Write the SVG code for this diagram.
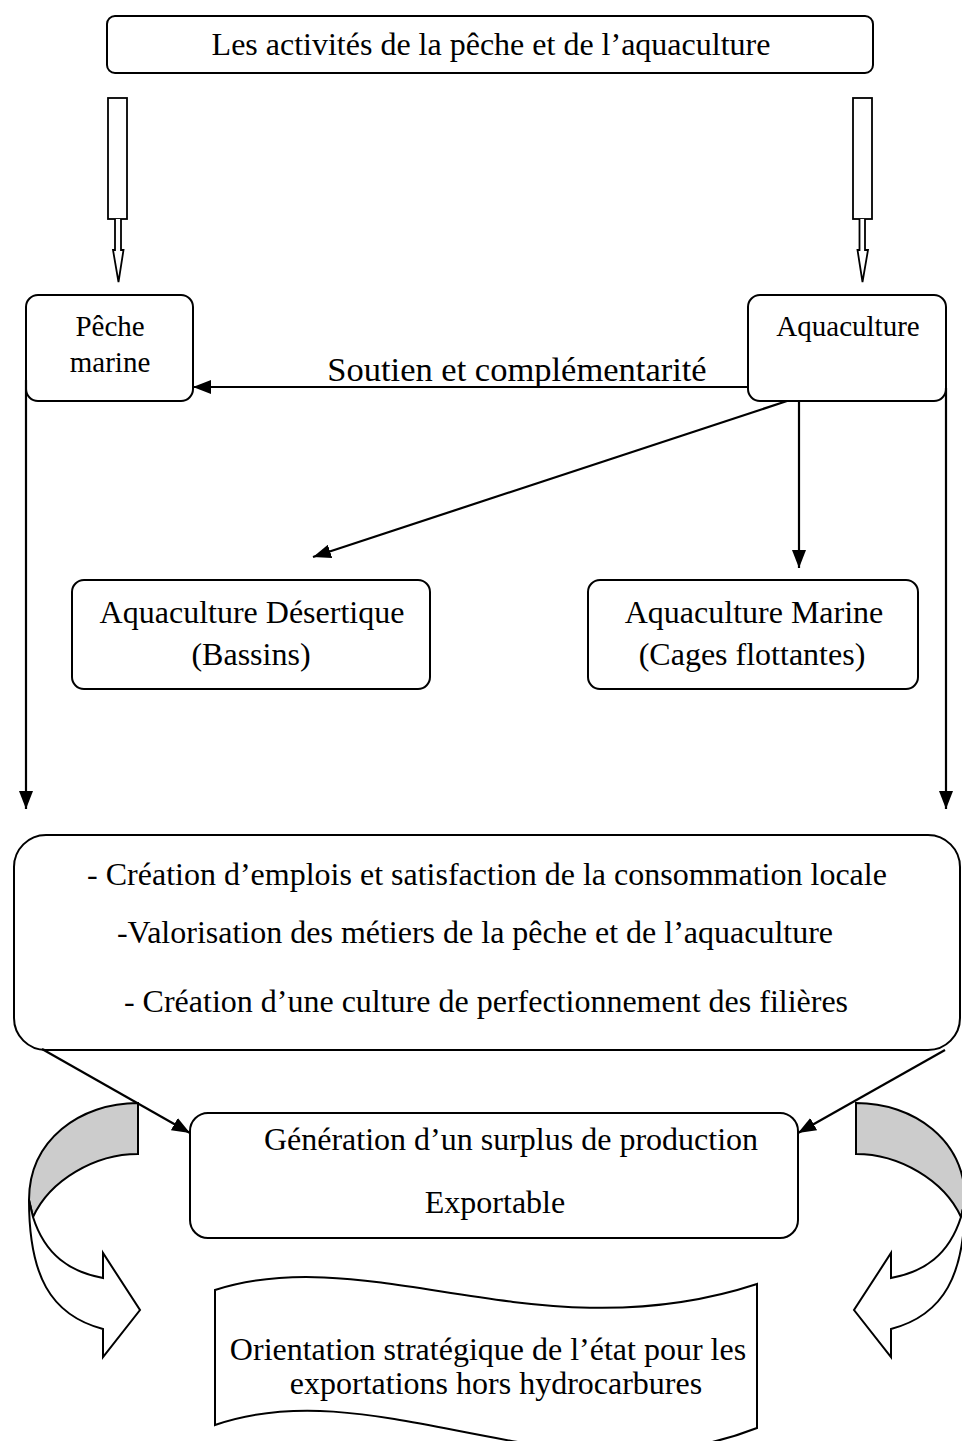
<svg xmlns="http://www.w3.org/2000/svg" width="962" height="1441" viewBox="0 0 962 1441">
  <style>
    .box { fill: #ffffff; stroke: #000000; stroke-width: 2; }
    .hollow { fill: #ffffff; stroke: #000000; stroke-width: 1.8; stroke-linejoin: miter; }
    .conn { fill: none; stroke: #000000; stroke-width: 2.2; }
    .band { fill: #cccccc; stroke: #000000; stroke-width: 2; stroke-linejoin: miter; }
    .front { fill: #ffffff; stroke: #000000; stroke-width: 2; stroke-linejoin: miter; }
    text { font-family: "Liberation Serif", "Times New Roman", serif; fill: #000000; text-anchor: middle; }
    .t32 { font-size: 32px; }
    .t29 { font-size: 29px; }
    .t34 { font-size: 34.5px; }
  </style>
  <defs>
    <marker id="ah" viewBox="0 0 18 14" refX="18" refY="7" markerWidth="18" markerHeight="14" markerUnits="userSpaceOnUse" orient="auto">
      <path d="M0,0 L18,7 L0,14 Z" fill="#000000"/>
    </marker>
  </defs>

  <!-- Title node -->
  <g id="activites">
    <rect class="box" x="107" y="16" width="766" height="57" rx="8"/>
    <text class="t32" x="491" y="55">Les activités de la pêche et de l’aquaculture</text>
  </g>

  <!-- Hollow block arrows from the title -->
  <g id="hollow-left">
    <rect class="hollow" x="108" y="98" width="19" height="121"/>
    <path class="hollow" d="M115,219 V250 H113 L118.5,282 L123.5,250 H121 V219"/>
  </g>
  <g id="hollow-right">
    <rect class="hollow" x="853" y="98" width="19" height="121"/>
    <path class="hollow" d="M859.5,219 V250 H857.5 L862.5,282 L868,250 H865 V219"/>
  </g>

  <!-- Second row -->
  <g id="peche-marine">
    <rect class="box" x="26" y="295" width="167" height="106" rx="12"/>
    <text class="t29" x="110" y="336">Pêche</text>
    <text class="t29" x="110" y="372">marine</text>
  </g>
  <g id="aquaculture">
    <rect class="box" x="748" y="295" width="198" height="106" rx="12"/>
    <text class="t29" x="848" y="336">Aquaculture</text>
  </g>

  <!-- Third row -->
  <g id="aqua-desertique">
    <rect class="box" x="72" y="580" width="358" height="109" rx="12"/>
    <text class="t32" x="252" y="623">Aquaculture Désertique</text>
    <text class="t32" x="251" y="665">(Bassins)</text>
  </g>
  <g id="aqua-marine">
    <rect class="box" x="588" y="580" width="330" height="109" rx="12"/>
    <text class="t32" x="754" y="623">Aquaculture Marine</text>
    <text class="t32" x="752" y="665">(Cages flottantes)</text>
  </g>

  <!-- Outcomes -->
  <g id="retombees">
    <rect class="box" x="14" y="835" width="946" height="215" rx="32"/>
    <text class="t32" x="487" y="885">- Création d’emplois et satisfaction de la consommation locale</text>
    <text class="t32" x="475" y="943">-Valorisation des métiers de la pêche et de l’aquaculture</text>
    <text class="t32" x="486" y="1012">- Création d’une culture de perfectionnement des filières</text>
  </g>

  <g id="surplus">
    <rect class="box" x="190" y="1113" width="608" height="125" rx="18"/>
    <text class="t32" x="511" y="1150">Génération d’un surplus de production</text>
    <text class="t32" x="495" y="1213">Exportable</text>
  </g>

  <!-- Curved block arrows either side of the surplus node -->
  <g id="curve-left">
    <path class="band" d="M138,1103 C80,1103 29,1140 29,1200 L33,1217 C50,1180 95,1154 138,1154 Z"/>
    <path class="front" d="M29,1200 C29,1275 50,1315 103,1329 L103,1357 L140,1310 L103,1253 L103,1278 C70,1272 45,1255 33,1217 Z"/>
  </g>
  <g id="curve-right" transform="translate(994,0) scale(-1,1)">
    <path class="band" d="M138,1103 C80,1103 29,1140 29,1200 L33,1217 C50,1180 95,1154 138,1154 Z"/>
    <path class="front" d="M29,1200 C29,1275 50,1315 103,1329 L103,1357 L140,1310 L103,1253 L103,1278 C70,1272 45,1255 33,1217 Z"/>
  </g>

  <!-- Wave banner -->
  <g id="orientation">
    <path class="box" d="M215,1290 C370,1240 540,1355 757,1284 L757,1428 C560,1505 380,1368 215,1425 Z"/>
    <text class="t32" x="488" y="1360">Orientation stratégique de l’état pour les</text>
    <text class="t32" x="496" y="1394">exportations hors hydrocarbures</text>
  </g>

  <!-- Connectors -->
  <g id="connectors">
    <line class="conn" x1="748" y1="387" x2="193" y2="387" marker-end="url(#ah)"/>
    <text class="t34" x="517" y="381">Soutien et complémentarité</text>
    <line class="conn" x1="787" y1="401" x2="313" y2="557" marker-end="url(#ah)"/>
    <line class="conn" x1="799" y1="401" x2="799" y2="568" marker-end="url(#ah)"/>
    <line class="conn" x1="26" y1="380" x2="26" y2="809" marker-end="url(#ah)"/>
    <line class="conn" x1="946" y1="388" x2="946" y2="809" marker-end="url(#ah)"/>
    <line class="conn" x1="42" y1="1049" x2="190" y2="1133" marker-end="url(#ah)"/>
    <line class="conn" x1="945" y1="1050" x2="798" y2="1133" marker-end="url(#ah)"/>
  </g>
</svg>
